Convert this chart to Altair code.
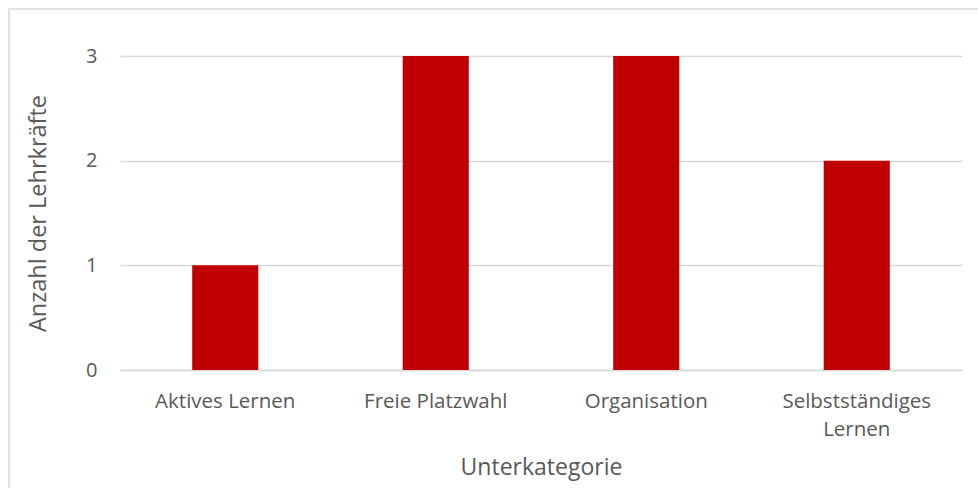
import altair as alt
import pandas as pd

categories = ["Aktives Lernen", "Freie Platzwahl", "Organisation", "Selbstständiges Lernen"]
values = [1, 3, 3, 2]
y_ticks = [0, 1, 2, 3]

df = pd.DataFrame({"Unterkategorie": categories, "Anzahl": values})

FONT = "Open Sans"
TXT = "#595959"
GRID = "#d9d9d9"

border = alt.Chart(pd.DataFrame({"a": [0]})).mark_rect(
    fill=None, stroke=GRID, strokeWidth=1.5
).encode(
    x=alt.value(-111), x2=alt.value(900), y=alt.value(-47), y2=alt.value(600)
)

bars = alt.Chart(df).mark_bar(color="#c00000").encode(
    x=alt.X(
        "Unterkategorie:N",
        sort=categories,
        scale=alt.Scale(paddingInner=0.686, paddingOuter=0.343),
        axis=alt.Axis(
            title="Unterkategorie",
            labelAngle=0,
            labelFont=FONT,
            labelFontSize=20.5,
            labelColor=TXT,
            labelPadding=21,
            labelLineHeight=28,
            labelExpr="datum.label == 'Selbstständiges Lernen' ? ['Selbstständiges', 'Lernen'] : datum.label",
            ticks=False,
            domain=True,
            domainColor=GRID,
            domainWidth=1.5,
            grid=False,
            titleFont=FONT,
            titleFontSize=23,
            titleFontWeight="normal",
            titleColor=TXT,
            titleY=97,
            titleBaseline="middle",
        ),
    ),
    y=alt.Y(
        "Anzahl:Q",
        scale=alt.Scale(domain=[0, 3]),
        axis=alt.Axis(
            title="Anzahl der Lehrkräfte",
            values=y_ticks,
            format="d",
            labelFont=FONT,
            labelFontSize=20,
            labelColor=TXT,
            labelPadding=23,
            ticks=False,
            domain=False,
            grid=True,
            gridColor=GRID,
            gridWidth=1.5,
            titleFont=FONT,
            titleFontSize=23.5,
            titleFontWeight="normal",
            titleColor=TXT,
            titleX=-82,
            titleY=157,
            titleBaseline="middle",
            titleAlign="center",
        ),
    ),
)

chart = alt.layer(border, bars).properties(
    width=842,
    height=314,
    background="white",
    autosize=alt.AutoSizeParams(type="none"),
    padding={"left": 120, "top": 56, "right": 16, "bottom": 118},
).configure_view(strokeWidth=0, stroke=None)

chart.save("out.html", embed_options={"renderer": "svg", "actions": False})
